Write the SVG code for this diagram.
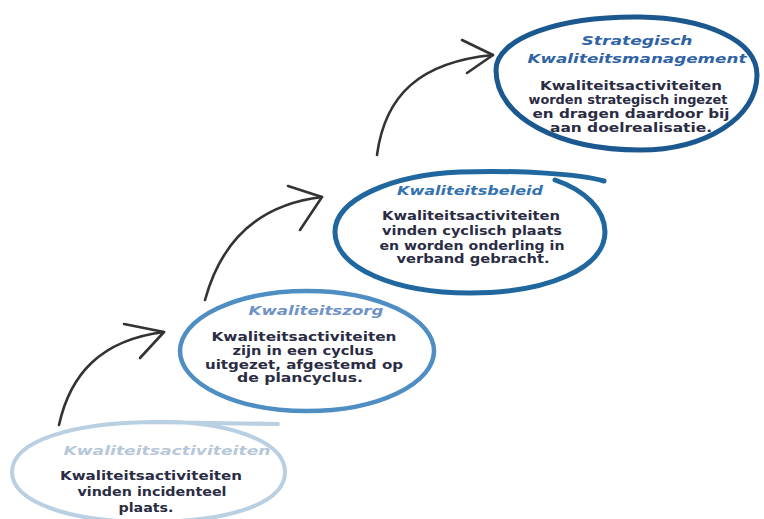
<svg xmlns="http://www.w3.org/2000/svg" width="764" height="519" viewBox="0 0 764 519">
<style>
.bg{fill:#ffffff}
.ell{fill:none;stroke-linecap:round}
.e1{stroke:#b9cfe2;stroke-width:4}
.e2{stroke:#4f8ec3;stroke-width:4.5}
.e3{stroke:#1f679e;stroke-width:5}
.e4{stroke:#1c5890;stroke-width:5}
.t{font-family:"DejaVu Sans","Liberation Sans",sans-serif;font-weight:bold;text-anchor:middle}
.title{font-size:13px;font-style:italic}
.body{font-size:11.5px;fill:#2a2c44}
.conn{fill:none;stroke:#333333;stroke-width:2.6;stroke-linecap:round;stroke-linejoin:round}
</style>
<rect class="bg" x="0" y="0" width="764" height="519"/>

<g id="connectors">
  <path class="conn" d="M59 425 C70 375 100 340 164 332"/>
  <path class="conn" d="M124 324 L164 332 L140 358"/>
  <path class="conn" d="M205 300 C220 245 255 205 322 197"/>
  <path class="conn" d="M288 186 L322 197 L300 230"/>
  <path class="conn" d="M377 155 C385 95 420 62 493 55"/>
  <path class="conn" d="M462 40 L493 55 L467 73"/>
</g>

<g id="node-kwaliteitsactiviteiten">
  <path class="ell e1" d="M148 422 C225 420 285 440 285 472 C285 505 225 522 148 522 C70 522 12 502 12 472 C12 440 75 423 150 422 L278 424"/>
  <text class="t title" x="167" y="455" fill="#b7c7da" textLength="207" lengthAdjust="spacingAndGlyphs">Kwaliteitsactiviteiten</text>
  <text class="t body" x="151" y="480" textLength="182" lengthAdjust="spacingAndGlyphs">Kwaliteitsactiviteiten</text>
  <text class="t body" x="152" y="496" textLength="149" lengthAdjust="spacingAndGlyphs">vinden incidenteel</text>
  <text class="t body" x="146" y="512" textLength="55" lengthAdjust="spacingAndGlyphs">plaats.</text>
</g>

<g id="node-kwaliteitszorg">
  <ellipse class="ell e2" cx="307" cy="351" rx="127" ry="60"/>
  <text class="t title" x="316" y="315" fill="#6f92c8" textLength="135" lengthAdjust="spacingAndGlyphs">Kwaliteitszorg</text>
  <text class="t body" x="304" y="341" textLength="185" lengthAdjust="spacingAndGlyphs">Kwaliteitsactiviteiten</text>
  <text class="t body" x="303" y="355" textLength="141" lengthAdjust="spacingAndGlyphs">zijn in een cyclus</text>
  <text class="t body" x="304" y="369" textLength="198" lengthAdjust="spacingAndGlyphs">uitgezet, afgestemd op</text>
  <text class="t body" x="300" y="382" textLength="126" lengthAdjust="spacingAndGlyphs">de plancyclus.</text>
</g>

<g id="node-kwaliteitsbeleid">
  <path class="ell e3" d="M604 181 C580 174 520 170 460 172 C390 175 335 200 335 232 C335 268 395 293 470 293 C548 293 605 268 605 232 C605 210 585 190 555 180"/>
  <text class="t title" x="470" y="195" fill="#3572b0" textLength="146" lengthAdjust="spacingAndGlyphs">Kwaliteitsbeleid</text>
  <text class="t body" x="471" y="220" textLength="178" lengthAdjust="spacingAndGlyphs">Kwaliteitsactiviteiten</text>
  <text class="t body" x="472" y="235" fill="#3a2c30" textLength="180" lengthAdjust="spacingAndGlyphs">vinden cyclisch plaats</text>
  <text class="t body" x="472" y="250" textLength="185" lengthAdjust="spacingAndGlyphs">en worden onderling in</text>
  <text class="t body" x="473" y="263" textLength="153" lengthAdjust="spacingAndGlyphs">verband gebracht.</text>
</g>

<g id="node-strategisch">
  <path class="ell e4" d="M640 17 C705 18 757 40 757 75 C757 118 705 150 640 150 C560 150 496 118 496 70 C496 38 560 16 640 17 Z"/>
  <text class="t title" x="637" y="45" fill="#2f63a5" textLength="111" lengthAdjust="spacingAndGlyphs">Strategisch</text>
  <text class="t title" x="637" y="63" fill="#2f63a5" textLength="219" lengthAdjust="spacingAndGlyphs">Kwaliteitsmanagement</text>
  <text class="t body" x="631" y="90" textLength="182" lengthAdjust="spacingAndGlyphs">Kwaliteitsactiviteiten</text>
  <text class="t body" x="628" y="104" textLength="199" lengthAdjust="spacingAndGlyphs">worden strategisch ingezet</text>
  <text class="t body" x="631" y="118" textLength="197" lengthAdjust="spacingAndGlyphs">en dragen daardoor bij</text>
  <text class="t body" x="631" y="132" textLength="162" lengthAdjust="spacingAndGlyphs">aan doelrealisatie.</text>
</g>
</svg>
